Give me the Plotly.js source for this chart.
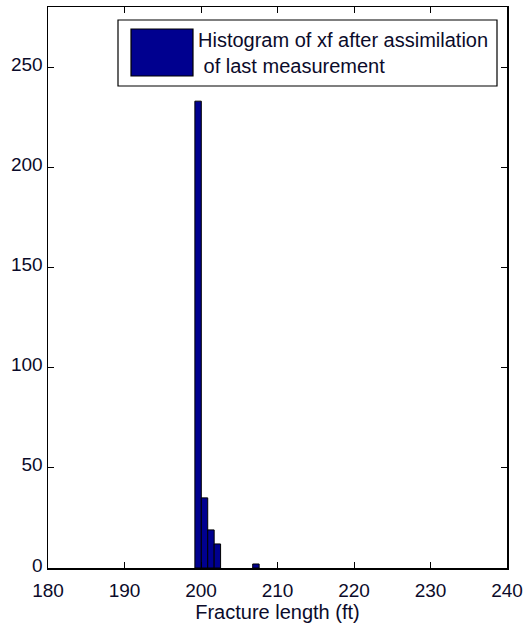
<!DOCTYPE html>
<html>
<head>
<meta charset="utf-8">
<script src="https://cdn.plot.ly/plotly-3.0.1.min.js"></script>
<style>html,body{margin:0;padding:0;background:#fff;}#chart{width:525px;height:632px;}</style>
</head>
<body>
<div id="chart"></div>
<script>
// Histogram bin centres (ft) and counts
const binCenters = [199.62, 200.46, 201.30, 202.14, 202.98, 203.82, 204.66, 205.50, 206.34, 207.18];
const binCounts  = [233, 35, 19, 12, 0, 0, 0, 0, 0, 2];
const binWidth = 0.84;
const xTicks = [180, 190, 200, 210, 220, 230, 240];
const yTicks = [0, 50, 100, 150, 200, 250];
const legendLines = ["Histogram of xf after assimilation", " of last measurement"];
const xTitle = "Fracture length (ft)";

const FONT = "Liberation Sans, Arial, sans-serif";
const TXT = "#0b0b2a";

const trace = {
  type: "bar",
  x: binCenters,
  y: binCounts,
  width: binCenters.map(() => binWidth),
  marker: {color: "#00008F",
           line: {color: "#000000", width: binCounts.map(c => c > 0 ? 1 : 0)}},
  showlegend: false,
  hoverinfo: "x+y"
};

const layout = {
  width: 525, height: 632,
  margin: {l: 48, r: 18, t: 7, b: 64},
  paper_bgcolor: "#ffffff",
  plot_bgcolor: "#ffffff",
  bargap: 0,
  showlegend: false,
  font: {family: FONT, size: 18, color: TXT},
  xaxis: {
    range: [180, 240],
    tickmode: "array", tickvals: xTicks, ticktext: xTicks.map(String),
    ticks: "inside", ticklen: 6, tickcolor: "#000", tickwidth: 1,
    showline: true, linecolor: "#000", linewidth: 1.5, mirror: "ticks",
    showgrid: false, zeroline: false,
    ticklabelstandoff: 5,
    tickfont: {family: FONT, size: 19, color: TXT},
    title: {text: xTitle, font: {family: FONT, size: 20, color: TXT}, standoff: 0}
  },
  yaxis: {
    range: [0, 280],
    tickmode: "array", tickvals: yTicks, ticktext: yTicks.map(String),
    ticks: "inside", ticklen: 6, tickcolor: "#000", tickwidth: 1,
    showline: true, linecolor: "#000", linewidth: 1.5, mirror: "ticks",
    showgrid: false, zeroline: false,
    ticklabelshift: -3,
    tickfont: {family: FONT, size: 19, color: TXT}
  },
  shapes: [
    {type: "rect", xref: "paper", yref: "paper",
     x0: (118-48)/459, x1: (497-48)/459, y0: (568-86)/561, y1: (568-20)/561,
     fillcolor: "#ffffff", line: {color: "#000", width: 1.2}},
    {type: "rect", xref: "paper", yref: "paper",
     x0: (131-48)/459, x1: (193-48)/459, y0: (568-76)/561, y1: (568-29)/561,
     fillcolor: "#00008F", line: {color: "#000", width: 1.2}}
  ],
  annotations: [
    {xref: "paper", yref: "paper", x: (196-48)/459, y: (568-53)/561,
     xanchor: "left", yanchor: "middle", showarrow: false, align: "left",
     text: legendLines.join("<br>"),
     font: {family: FONT, size: 20, color: TXT}}
  ]
};

Plotly.newPlot("chart", [trace], layout, {displayModeBar: false, staticPlot: true});
</script>
</body>
</html>
